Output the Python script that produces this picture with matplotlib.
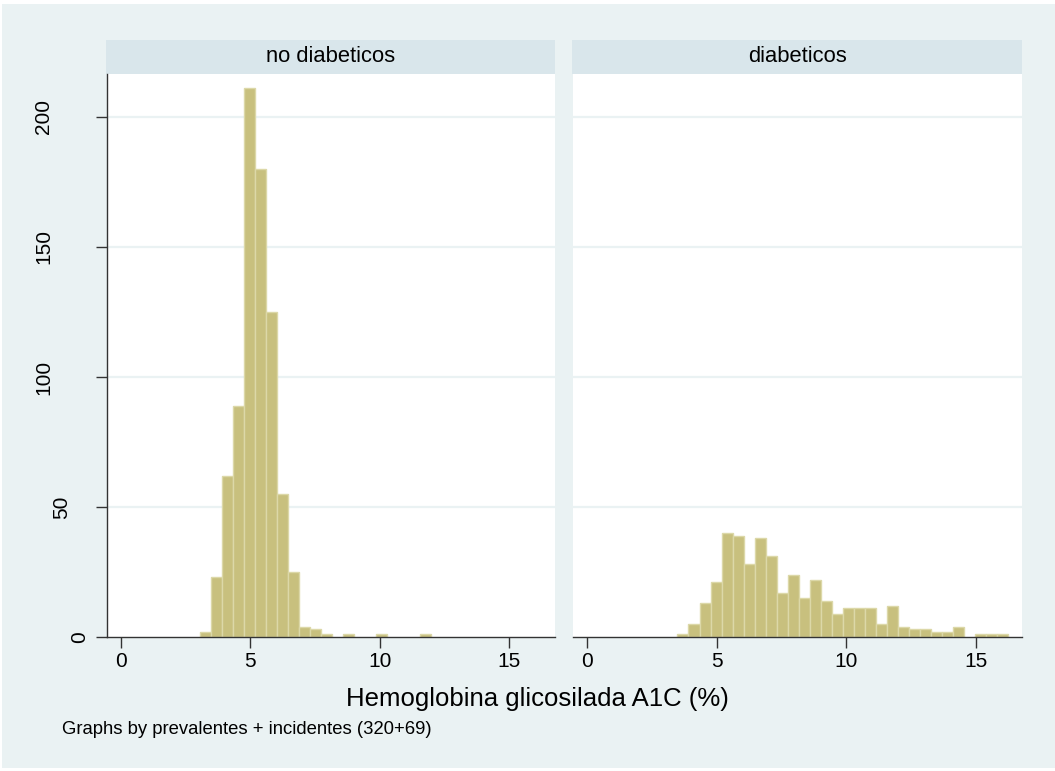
import matplotlib
matplotlib.use("Agg")
import matplotlib.pyplot as plt
from matplotlib.patches import Rectangle
import numpy as np

plt.rcParams['font.family'] = ['Liberation Sans', 'DejaVu Sans']

# ---- data ----
panel_titles = ["no diabeticos", "diabeticos"]
bin_start = 3.065
bin_width = 0.4248
counts_no_diab = [2, 23, 62, 89, 211, 180, 125, 55, 25, 4, 3, 1, 0, 1, 0, 0,
                  1, 0, 0, 0, 1, 0, 0, 0, 0, 0, 0, 0, 0, 0, 0]
counts_diab = [0, 1, 5, 13, 21, 40, 39, 28, 38, 31, 17, 24, 15, 22, 14, 9,
               11, 11, 11, 5, 12, 4, 3, 3, 2, 2, 4, 0, 1, 1, 1]
x_ticks = [0, 5, 10, 15]
y_ticks = [0, 50, 100, 150, 200]
x_title = "Hemoglobina glicosilada A1C (%)"
note = "Graphs by prevalentes + incidentes (320+69)"

W, H = 1055, 771
fig = plt.figure(figsize=(W / 100, H / 100), dpi=100)
fig.patch.set_facecolor("white")

BG = "#EAF2F3"
STRIP = "#D9E6EB"
BAR = "#C8C07E"
BAR_EDGE = "#DCD8A8"
AXC = "#333333"

def fx(px):
    return px / W

def fy(py):
    return 1 - py / H

# outer graph region
fig.patches.append(Rectangle((fx(2), fy(768)), fx(1055) - fx(2), fy(4) - fy(768),
                             transform=fig.transFigure, facecolor=BG, edgecolor="none", zorder=-5))

panels = [(107, 555), (573, 1022)]
top_px, bot_px = 74, 637
strip_top = 40
data = [counts_no_diab, counts_diab]

for i, ((x0, x1), counts, title) in enumerate(zip(panels, data, panel_titles)):
    ax = fig.add_axes([fx(x0), fy(bot_px), fx(x1) - fx(x0), fy(top_px) - fy(bot_px)])
    ax.set_zorder(5)
    ax.set_facecolor("white")
    ax.set_xlim(-0.541, 16.78)
    ax.set_ylim(0, 216.5)
    counts = np.array(counts)
    lefts = bin_start + np.arange(len(counts)) * bin_width
    mask = counts > 0
    ax.bar(lefts[mask], counts[mask], width=bin_width, align="edge",
           color=BAR, edgecolor=BAR_EDGE, linewidth=1.0, zorder=2)
    for yv in y_ticks[1:]:
        ax.axhline(yv, color=BG, linewidth=1.6, zorder=1)
    for s in ["top", "right"]:
        ax.spines[s].set_visible(False)
    ax.spines["bottom"].set_color(AXC)
    ax.spines["bottom"].set_linewidth(1.0)
    ax.spines["bottom"].set_zorder(3)
    ax.set_xticks(x_ticks)
    ax.set_xticklabels([str(t) for t in x_ticks], fontsize=15)
    ax.tick_params(axis="x", length=8, width=1.0, color=AXC, pad=3)
    if i == 0:
        ax.spines["left"].set_color(AXC)
        ax.spines["left"].set_linewidth(1.0)
        ax.set_yticks(y_ticks)
        ax.set_yticklabels([])
        ax.tick_params(axis="y", length=8, width=1.0, color=AXC)
        # rotated labels placed like Stata does
        for yv in y_ticks:
            lab = str(yv)
            off = 9 + 18 * len(lab)
            ypix = ax.transData.transform((0, yv))[1]
            fig.text(fx(x0 - off), ypix / H, lab, rotation=90, ha="center", va="center",
                     fontsize=15, color="black")
    else:
        ax.spines["left"].set_visible(False)
        ax.set_yticks([])
    # strip
    fig.patches.append(Rectangle((fx(x0 - 1), fy(top_px)), fx(x1) - fx(x0 - 1), fy(strip_top) - fy(top_px),
                                 transform=fig.transFigure, facecolor=STRIP, edgecolor="none", zorder=-4))
    fig.text(fx((x0 + x1) / 2), fy((strip_top + top_px) / 2), title, ha="center", va="center",
             fontsize=15.8, color="black")

fig.text(fx(537), fy(699), x_title, ha="center", va="center", fontsize=18.5, color="black")
fig.text(fx(62), fy(730), note, ha="left", va="center", fontsize=13.3, color="black")

fig.savefig("out.png", dpi=100, facecolor=fig.get_facecolor())
